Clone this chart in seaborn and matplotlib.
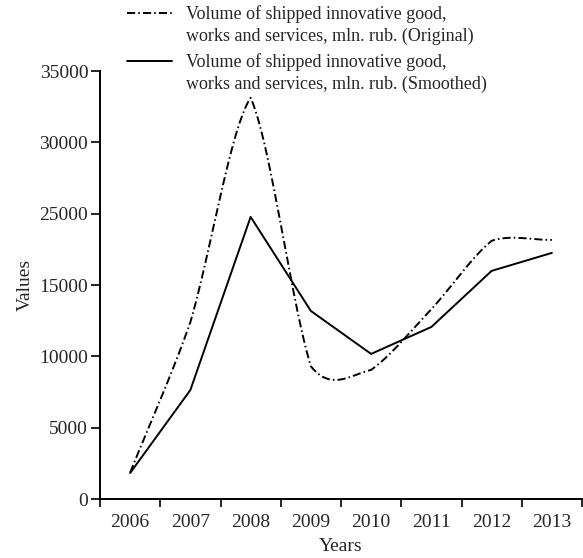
import numpy as np
import pandas as pd
import matplotlib
matplotlib.use("Agg")
import matplotlib.pyplot as plt
import seaborn as sns
from matplotlib.legend_handler import HandlerLine2D

# values (axis position units)
years = ["2006", "2007", "2008", "2009", "2010", "2011", "2012", "2013"]
original = [1850, 12400, 28120, 9300, 9050, 13300, 18100, 18160]
smoothed = [1820, 7640, 19775, 13180, 10170, 12060, 15990, 17250]
ytick_values = [0, 5000, 10000, 15000, 20000, 25000, 30000]
ytick_labels = ["0", "5000", "10000", "15000", "25000", "30000", "35000"]
label_orig = "Volume of shipped innovative good,\nworks and services, mln. rub. (Original)"
label_smooth = "Volume of shipped innovative good,\nworks and services, mln. rub. (Smoothed)"

sns.set_style("ticks")
plt.rcParams['font.family'] = ['Liberation Serif', 'DejaVu Serif']
plt.rcParams['font.size'] = 14


def smooth_curve(y, a=0.55, n=40):
    # drawing only: Hermite pieces, tangents mix the segment slope with the
    # Catmull-Rom slope, so sharp corners stay fairly sharp
    y = np.asarray(y, dtype=float)
    sec = np.diff(y)
    cr = np.gradient(y)
    xs, ys = [], []
    for i in range(len(y) - 1):
        t0 = (1 - a) * sec[i] + a * cr[i]
        t1 = (1 - a) * sec[i] + a * cr[i + 1]
        s = np.linspace(0, 1, n, endpoint=(i == len(y) - 2))
        h00 = 2 * s**3 - 3 * s**2 + 1
        h10 = s**3 - 2 * s**2 + s
        h01 = -2 * s**3 + 3 * s**2
        h11 = s**3 - s**2
        xs.append(i + s)
        ys.append(h00 * y[i] + h10 * t0 + h01 * y[i + 1] + h11 * t1)
    return np.concatenate(xs), np.concatenate(ys)


class TopLineHandler(HandlerLine2D):
    # put the legend sample level with the first text line
    def create_artists(self, legend, orig_handle, xdescent, ydescent, width,
                       height, fontsize, trans):
        arts = super().create_artists(legend, orig_handle, xdescent, ydescent,
                                      width, height, fontsize, trans)
        for a in arts:
            a.set_ydata(np.asarray(a.get_ydata()) + 0.7 * fontsize)
        return arts


fig = plt.figure(figsize=(5.83, 5.58), dpi=100)
ax = fig.add_axes([100 / 583, 59 / 558, 482 / 583, 428 / 558])

xi = np.arange(len(years))
cx, cy = smooth_curve(original)
curve = pd.DataFrame({"x": cx, "y": cy})
df_s = pd.DataFrame({"x": xi, "y": smoothed})

dash = (4.2, 1.6, 0.8, 1.6)
sns.lineplot(data=curve, x="x", y="y", ax=ax, color="black", linewidth=1.4,
             sort=False, label=label_orig)
sns.lineplot(data=df_s, x="x", y="y", ax=ax, color="black", linewidth=1.4,
             label=label_smooth)
ax.get_lines()[0].set_dashes(dash)

ax.set_xlim(-0.5, len(years) - 0.5)
ax.set_ylim(0, 30000)
ax.set_yticks(ytick_values)
ax.set_yticklabels(ytick_labels)
ax.set_xticks(np.arange(-0.5, len(years)))
ax.set_xticklabels([])
ax.set_xticks(xi, minor=True)
ax.set_xticklabels(years, minor=True)
ax.tick_params(axis="x", which="major", length=6, width=1.4, direction="out")
ax.tick_params(axis="x", which="minor", length=0, pad=11, labelsize=14)
ax.tick_params(axis="y", length=6.5, width=1.4, direction="out", pad=2, labelsize=14)
for s in ["top", "right"]:
    ax.spines[s].set_visible(False)
for s in ["left", "bottom"]:
    ax.spines[s].set_linewidth(1.4)
    ax.spines[s].set_color("black")

ax.set_xlabel("Years", fontsize=14, labelpad=5)
ax.set_ylabel("Values", fontsize=14, labelpad=4)

handles, labels = ax.get_legend_handles_labels()
leg = ax.legend(handles, labels, loc="upper left", bbox_to_anchor=(0.037, 1.175),
                frameon=False, fontsize=13, handlelength=2.5, handletextpad=0.8,
                labelspacing=0.45, borderpad=0,
                handler_map={h: TopLineHandler() for h in handles})
for txt in leg.get_texts():
    txt.set_linespacing(1.35)
for h in leg.get_lines():
    h.set_color("black")
    h.set_linewidth(1.4)

fig.savefig("out.png", dpi=100)
